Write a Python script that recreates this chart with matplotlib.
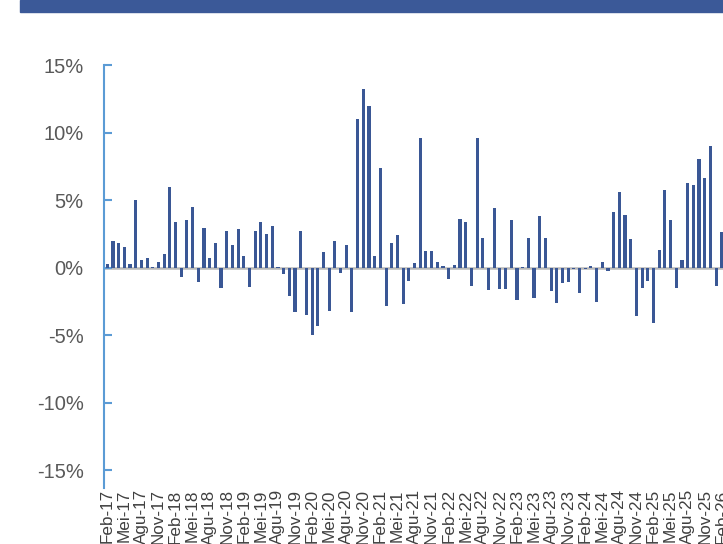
import matplotlib

matplotlib.use("Agg")
import matplotlib.pyplot as plt
from matplotlib.patches import Rectangle

plt.rcParams["font.family"] = ["Liberation Sans", "DejaVu Sans"]

# monthly change (%), Feb-17 .. Feb-26
MONTH_NAMES = ["Feb", "Mei", "Agu", "Nov"]
YEARS = list(range(17, 27))
VALUES = [
    0.3, 2.0, 1.8, 1.5, 0.25, 5.0, 0.6, 0.75, 0.07, 0.4, 1.05, 6.0,
    3.35, -0.7, 3.5, 4.5, -1.05, 2.95, 0.75, 1.8, -1.5, 2.75, 1.7, 2.85,
    0.9, -1.4, 2.75, 3.35, 2.5, 3.05, 0.05, -0.5, -2.1, -3.3, 2.75, -3.5,
    -5.0, -4.35, 1.15, -3.2, 2.0, -0.37, 1.67, -3.25, 11.0, 13.2, 11.95, 0.85,
    7.4, -2.85, 1.8, 2.4, -2.65, -1.0, 0.37, 9.6, 1.2, 1.2, 0.4, 0.1,
    -0.8, 0.2, 3.57, 3.4, -1.35, 9.6, 2.2, -1.65, 4.4, -1.6, -1.58, 3.5,
    -2.4, 0.05, 2.17, -2.27, 3.8, 2.2, -1.7, -2.63, -1.15, -1.03, -0.1, -1.9,
    -0.1, 0.12, -2.55, 0.45, -0.22, 4.15, 5.57, 3.92, 2.12, -3.57, -1.5, -0.96,
    -4.1, 1.28, 5.74, 3.55, -1.53, 0.54, 6.28, 6.1, 8.03, 6.67, 9.04, -1.33,
    2.64,
]
TICK_LABELS = [f"{m}-{y}" for y in YEARS for m in MONTH_NAMES][:37]
Y_TICKS = [-15, -10, -5, 0, 5, 10, 15]
Y_LABELS = ["-15%", "-10%", "-5%", "0%", "5%", "10%", "15%"]

BAR = "#3A5795"
SPINE = "#5B9BD5"

fig = plt.figure(figsize=(7.23, 5.44), dpi=100)
fig.patches.append(
    Rectangle((20 / 723, 1 - 12 / 544), 1.0, 12 / 544, transform=fig.transFigure,
              color="#3B5998", zorder=0)
)

ax = fig.add_axes([0.1444, 0.103, 0.8736, 0.7775])
x = list(range(len(VALUES)))
ax.axhline(0, color="#B8B8B8", linewidth=1.8, zorder=1)
ax.bar(x, VALUES, width=0.55, color=BAR, zorder=2)

ax.set_xlim(-0.5, 110.5)
ax.set_ylim(-16.3, 15)

for s in ("top", "right", "bottom"):
    ax.spines[s].set_visible(False)
ax.spines["left"].set_color(SPINE)
ax.spines["left"].set_linewidth(1.5)

ax.set_yticks(Y_TICKS)
ax.set_yticklabels(Y_LABELS)
ax.tick_params(axis="y", direction="in", length=6, width=1.5, color=SPINE,
               labelsize=14.5, labelcolor="#595959", pad=15)

ax.set_xticks(x[::3])
ax.set_xticklabels(TICK_LABELS, rotation=90, va="top", ha="center")
ax.tick_params(axis="x", length=0, labelsize=12.3, labelcolor="#404040", pad=1)

fig.savefig("out.png", dpi=100)
